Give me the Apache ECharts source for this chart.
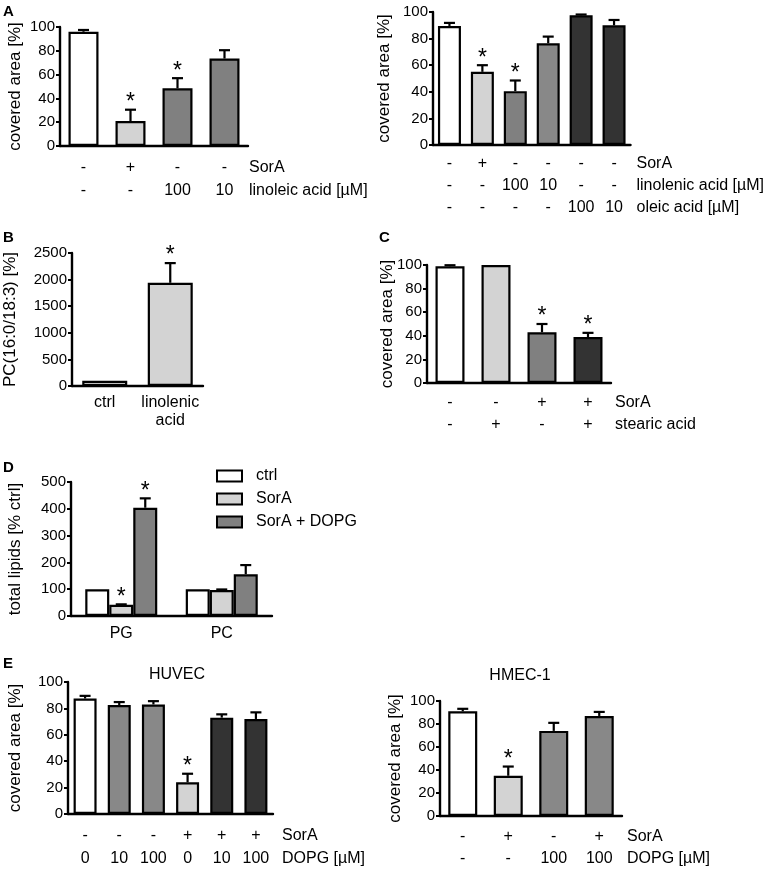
<!DOCTYPE html>
<html>
<head>
<meta charset="utf-8">
<script src="https://cdn.jsdelivr.net/npm/echarts@6/dist/echarts.min.js"></script>
<style>
  html, body { margin: 0; padding: 0; background: #fff; }
  #chart { width: 765px; height: 870px; }
</style>
</head>
<body>
<div id="chart"></div>
<script>
// ---- panel A, left ----
const aLeftSorA = ['-', '+', '-', '-'];
const aLeftLinoleic = ['-', '-', '100', '10'];
const aLeftMean = [96, 21, 48.5, 73.5];
const aLeftErr = [1.5, 9.5, 8.5, 7];
const aLeftSig = [0, 1, 1, 0];

// ---- panel A, right ----
const aRightSorA = ['-', '+', '-', '-', '-', '-'];
const aRightLinolenic = ['-', '-', '100', '10', '-', '-'];
const aRightOleic = ['-', '-', '-', '-', '100', '10'];
const aRightMean = [89.5, 55, 40.5, 76.5, 97.5, 90];
const aRightErr = [2.3, 5, 8, 5, 0.6, 4];
const aRightSig = [0, 1, 1, 0, 0, 0];

// ---- panel B ----
const bCats = ['ctrl', 'linolenic\nacid'];
const bMean = [100, 1940];
const bErr = [0, 370];
const bSig = [0, 1];

// ---- panel C ----
const cSorA = ['-', '-', '+', '+'];
const cStearic = ['-', '+', '-', '+'];
const cMean = [99, 100, 43, 39];
const cErr = [0.8, 0, 7, 3.5];
const cSig = [0, 0, 1, 1];

// ---- panel D ----
const dCats = ['PG', 'PC'];
const dNames = ['ctrl', 'SorA', 'SorA + DOPG'];
const dCtrl = [100, 100];
const dCtrlErr = [0, 0];
const dSorA = [42, 97];
const dSorAErr = [1.5, 2];
const dDopg = [404, 156];
const dDopgErr = [35, 34];
const dSig = [[0, 0], [1, 0], [1, 0]];

// ---- panel E, HUVEC ----
const eLeftSorA = ['-', '-', '-', '+', '+', '+'];
const eLeftDopg = ['0', '10', '100', '0', '10', '100'];
const eLeftMean = [87.5, 82.5, 83, 24, 73, 72];
const eLeftErr = [2, 2.3, 2.5, 6.5, 2.5, 5];
const eLeftSig = [0, 0, 0, 1, 0, 0];

// ---- panel E, HMEC-1 ----
const eRightSorA = ['-', '+', '-', '+'];
const eRightDopg = ['-', '-', '100', '100'];
const eRightMean = [91, 35, 74, 87];
const eRightErr = [2.2, 8, 7, 3.5];
const eRightSig = [0, 1, 0, 0];

const FONT = "'Liberation Sans', Arial, Helvetica, sans-serif";
const W = '#ffffff', L = '#d3d3d3', M = '#808080', M2 = '#888888', K = '#333333';

const grids = [], xAxes = [], yAxes = [], series = [];

function zipRows(rows) {
  return rows[0].map((_, i) => rows.map(r => r[i]).join('\n'));
}

function errRender(offset) {
  return function (params, api) {
    const i = api.value(0), m = api.value(1), e = api.value(2), s = api.value(3);
    const base = api.coord([i, m]);
    const top = api.coord([i, m + e]);
    const x = base[0] + offset;
    const children = [];
    if (e > 0) {
      children.push({ type: 'line', shape: { x1: x, y1: base[1], x2: x, y2: top[1] }, style: { stroke: '#000', lineWidth: 2.2 } });
      children.push({ type: 'line', shape: { x1: x - 5.5, y1: top[1], x2: x + 5.5, y2: top[1] }, style: { stroke: '#000', lineWidth: 2.2 } });
    }
    if (s) {
      children.push({ type: 'text', x: x, y: top[1] - 7, style: { text: '*', fontSize: 23, fontFamily: FONT, fill: '#000', align: 'center', verticalAlign: 'middle' } });
    }
    return { type: 'group', children };
  };
}

function addPanel(p) {
  const gi = grids.length;
  grids.push({ left: p.left, top: p.top, width: p.width, height: p.height });
  xAxes.push({
    gridIndex: gi, type: 'category', data: p.cats,
    axisLine: { lineStyle: { color: '#000', width: 2.4 } },
    axisTick: { alignWithLabel: true, length: 6, lineStyle: { color: '#000', width: 2 } },
    axisLabel: { interval: 0, color: '#000', fontSize: 16, fontFamily: FONT, lineHeight: p.lineHeight, margin: p.labelMargin },
    name: p.rowNames ? p.rowNames.join('\n') : '',
    nameLocation: 'end', nameGap: p.nameGap || 0, nameMoveOverlap: false,
    nameTextStyle: { color: '#000', fontSize: 16, fontFamily: FONT, align: 'left', verticalAlign: 'top', lineHeight: p.lineHeight, padding: [p.labelMargin, 0, 0, 0] }
  });
  yAxes.push({
    gridIndex: gi, type: 'value', min: 0, max: p.max, interval: p.interval,
    axisLine: { show: true, lineStyle: { color: '#000', width: 2.4 } },
    axisTick: { show: true, length: 4, lineStyle: { color: '#000', width: 2 } },
    splitLine: { show: false },
    axisLabel: { color: '#000', fontSize: 15, fontFamily: FONT, margin: 5, formatter: v => String(v) },
    name: p.yName, nameLocation: 'middle', nameGap: p.yGap, nameMoveOverlap: false,
    nameTextStyle: { color: '#000', fontSize: 17, fontFamily: FONT }
  });
  if (p.mean) {
    series.push({
      type: 'bar', xAxisIndex: gi, yAxisIndex: gi, barWidth: p.barWidth,
      data: p.mean.map((v, i) => ({ value: v, itemStyle: { color: p.colors[i] } })),
      itemStyle: { borderColor: '#000', borderWidth: 2.2 }
    });
    series.push({
      type: 'custom', xAxisIndex: gi, yAxisIndex: gi, z: 5,
      renderItem: errRender(0), encode: { x: 0, y: 1 },
      data: p.mean.map((v, i) => [i, v, p.err[i], p.sig[i]])
    });
  }
  return gi;
}

addPanel({
  left: 60, top: 27, width: 188, height: 119, max: 100, interval: 20,
  cats: zipRows([aLeftSorA, aLeftLinoleic]), rowNames: ['SorA', 'linoleic acid [µM]'],
  lineHeight: 23, labelMargin: 10, nameGap: 1,
  yName: 'covered area [%]', yGap: 36, barWidth: 30,
  mean: aLeftMean, err: aLeftErr, sig: aLeftSig, colors: [W, L, M, M]
});

addPanel({
  left: 433, top: 12, width: 199, height: 133, max: 100, interval: 20,
  cats: zipRows([aRightSorA, aRightLinolenic, aRightOleic]),
  rowNames: ['SorA', 'linolenic acid [µM]', 'oleic acid [µM]'],
  lineHeight: 22, labelMargin: 8, nameGap: 6,
  yName: 'covered area [%]', yGap: 40, barWidth: 23,
  mean: aRightMean, err: aRightErr, sig: aRightSig, colors: [W, L, M, M2, K, K]
});

addPanel({
  left: 72, top: 253, width: 131, height: 133, max: 2500, interval: 500,
  cats: bCats, lineHeight: 18, labelMargin: 8,
  yName: 'PC(16:0/18:3) [%]', yGap: 53, barWidth: 45,
  mean: bMean, err: bErr, sig: bSig, colors: [W, L]
});

addPanel({
  left: 427, top: 265, width: 184, height: 118, max: 100, interval: 20,
  cats: zipRows([cSorA, cStearic]), rowNames: ['SorA', 'stearic acid'],
  lineHeight: 22, labelMargin: 9, nameGap: 4,
  yName: 'covered area [%]', yGap: 31, barWidth: 29,
  mean: cMean, err: cErr, sig: cSig, colors: [W, L, M, K]
});

// panel D: grouped bars
const dGi = addPanel({
  left: 71, top: 482, width: 201, height: 134, max: 500, interval: 100,
  cats: dCats, lineHeight: 18, labelMargin: 9,
  yName: 'total lipids [% ctrl]', yGap: 47
});
[[dCtrl, dCtrlErr, W], [dSorA, dSorAErr, L], [dDopg, dDopgErr, M]].forEach(([vals, errs, col], k) => {
  series.push({
    type: 'bar', name: dNames[k], xAxisIndex: dGi, yAxisIndex: dGi,
    barWidth: 24, barGap: '0%', data: vals,
    itemStyle: { color: col, borderColor: '#000', borderWidth: 2.2 }
  });
  series.push({
    type: 'custom', xAxisIndex: dGi, yAxisIndex: dGi, z: 5,
    renderItem: errRender((k - 1) * 24), encode: { x: 0, y: 1 },
    data: vals.map((v, i) => [i, v, errs[i], dSig[k][i]])
  });
});

addPanel({
  left: 68, top: 682, width: 205, height: 132, max: 100, interval: 20,
  cats: zipRows([eLeftSorA, eLeftDopg]), rowNames: ['SorA', 'DOPG [µM]'],
  lineHeight: 23, labelMargin: 10, nameGap: 9,
  yName: 'covered area [%]', yGap: 44, barWidth: 23,
  mean: eLeftMean, err: eLeftErr, sig: eLeftSig, colors: [W, M2, M2, L, K, K]
});

addPanel({
  left: 440, top: 701, width: 182, height: 118, max: 100, interval: 20,
  cats: zipRows([eRightSorA, eRightDopg]), rowNames: ['SorA', 'DOPG [µM]'],
  lineHeight: 22, labelMargin: 10, nameGap: 5,
  yName: 'covered area [%]', yGap: 36, barWidth: 29,
  mean: eRightMean, err: eRightErr, sig: eRightSig, colors: [W, L, M2, M2]
});

function letter(t, x, y) {
  return { type: 'text', x, y, style: { text: t, fontSize: 15, fontWeight: 'bold', fontFamily: FONT, fill: '#000' } };
}
function title(t, x, y) {
  return { type: 'text', x, y, style: { text: t, fontSize: 16, fontFamily: FONT, fill: '#000', align: 'center', verticalAlign: 'middle' } };
}

const chart = echarts.init(document.getElementById('chart'), null, { renderer: 'canvas' });
chart.setOption({
  animation: false,
  backgroundColor: '#fff',
  textStyle: { fontFamily: FONT },
  grid: grids,
  xAxis: xAxes,
  yAxis: yAxes,
  legend: {
    data: dNames, orient: 'vertical', left: 216, top: 468, padding: 0,
    itemWidth: 25, itemHeight: 11, itemGap: 7,
    icon: 'rect',
    itemStyle: { borderColor: '#000', borderWidth: 2 },
    textStyle: { color: '#000', fontSize: 16, fontFamily: FONT, padding: [0, 0, 0, 9] }
  },
  graphic: [
    letter('A', 3, 4), letter('B', 3, 230), letter('C', 379, 230),
    letter('D', 3, 460), letter('E', 3, 656),
    title('HUVEC', 177, 675), title('HMEC-1', 520, 676)
  ],
  series
});
</script>
</body>
</html>
